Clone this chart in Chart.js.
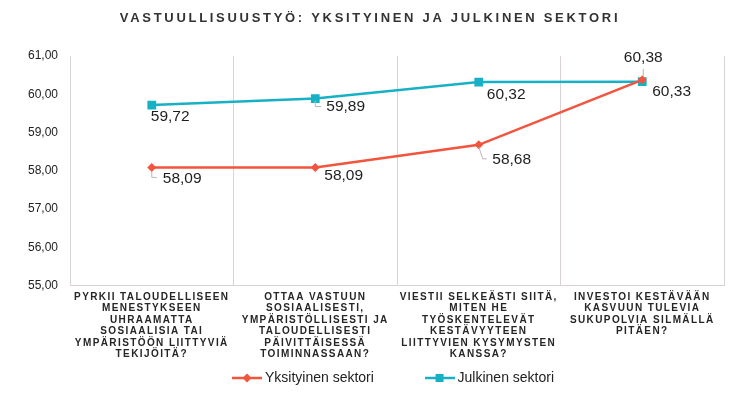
<!DOCTYPE html>
<html><head><meta charset="utf-8">
<script src="https://cdn.jsdelivr.net/npm/chart.js@4"></script>
<style>html,body{margin:0;padding:0;background:#fff}#wrap{width:746px;height:395px;position:relative}</style>
</head><body><div id="wrap"><canvas id="c"></canvas></div>
<script>
const categories = [
  ["PYRKII TALOUDELLISEEN","MENESTYKSEEN","UHRAAMATTA","SOSIAALISIA TAI","YMPÄRISTÖÖN LIITTYVIÄ","TEKIJÖITÄ?"],
  ["OTTAA VASTUUN","SOSIAALISESTI,","YMPÄRISTÖLLISESTI JA","TALOUDELLISESTI","PÄIVITTÄISESSÄ","TOIMINNASSAAN?"],
  ["VIESTII SELKEÄSTI SIITÄ,","MITEN HE","TYÖSKENTELEVÄT","KESTÄVYYTEEN","LIITTYVIEN KYSYMYSTEN","KANSSA?"],
  ["INVESTOI KESTÄVÄÄN","KASVUUN TULEVIA","SUKUPOLVIA SILMÄLLÄ","PITÄEN?"]
];
const yksityinen = [58.09, 58.09, 58.68, 60.38];
const julkinen = [59.72, 59.89, 60.32, 60.33];
const seriesNames = ["Yksityinen sektori", "Julkinen sektori"];
const yTickValues = [55, 56, 57, 58, 59, 60, 61];
const chartTitle = "VASTUULLISUUSTYÖ: YKSITYINEN JA JULKINEN SEKTORI";

// styling / placement (not data)
const FONT = "'Liberation Sans', Arial, sans-serif";
const RED = '#F2543D';
const BLUE = '#17B1C6';
const GRID = '#DAD3D3';
const labelPlacement = [
  [ {dx:11, dy:11.5, align:'left', leader:[[0,4],[0,10],[5,10]]},
    {dx:9, dy:8, align:'left'},
    {dx:13.5, dy:14.5, align:'left', leader:[[0,2],[4,14],[8,14]]},
    {dx:1, dy:-22, align:'center', leader:[[1,-3],[1,-11]]} ],
  [ {dx:-1, dy:12, align:'left'},
    {dx:11, dy:8.5, align:'left', leader:[[0,2],[0,8],[6,8]]},
    {dx:8, dy:13, align:'left'},
    {dx:10, dy:10, align:'left'} ]
];

function makeIcon(color, shape) {
  const c = document.createElement('canvas');
  c.width = 30; c.height = 12;
  const g = c.getContext('2d');
  g.strokeStyle = color; g.lineWidth = 2.5;
  g.beginPath(); g.moveTo(0, 6); g.lineTo(30, 6); g.stroke();
  g.fillStyle = color;
  if (shape === 'diamond') {
    g.beginPath(); g.moveTo(15, 1.5); g.lineTo(19.5, 6); g.lineTo(15, 10.5); g.lineTo(10.5, 6); g.closePath(); g.fill();
  } else {
    g.fillRect(11, 2, 8, 8);
  }
  return c;
}
const icons = [makeIcon(RED, 'diamond'), makeIcon(BLUE, 'square')];

const fmt = v => v.toFixed(2).replace('.', ',');

const spacingPlugin = {
  id: 'spacing',
  afterLayout(chart) {
    if (chart.legend) { chart.legend.left += 25; chart.legend.right += 25; }
  },
  beforeDraw(chart) {
    const patch = (obj, m, sp) => {
      if (!obj || obj['_p_' + m]) return;
      const orig = obj[m];
      obj[m] = function (...a) {
        const c = this.ctx; c.save(); c.letterSpacing = sp;
        const r = orig.apply(this, a); c.restore(); return r;
      };
      obj['_p_' + m] = true;
    };
    patch(chart.scales.x, 'drawLabels', '1.4px');
    patch(chart.titleBlock, 'draw', '2.7px');
  }
};

const valueLabels = {
  id: 'valueLabels',
  afterDatasetsDraw(chart) {
    const ctx = chart.ctx;
    chart.data.datasets.forEach((ds, di) => {
      const meta = chart.getDatasetMeta(di);
      meta.data.forEach((pt, i) => {
        const p = labelPlacement[di][i];
        ctx.save();
        if (p.leader) {
          ctx.strokeStyle = '#BFB4B4'; ctx.lineWidth = 1;
          ctx.beginPath();
          p.leader.forEach((q, k) => {
            const x = pt.x + q[0], y = pt.y + q[1];
            if (k === 0) ctx.moveTo(x, y); else ctx.lineTo(x, y);
          });
          ctx.stroke();
        }
        ctx.fillStyle = '#1e1e1e';
        ctx.font = '15.5px ' + FONT;
        ctx.textAlign = p.align;
        ctx.textBaseline = 'middle';
        ctx.fillText(fmt(ds.data[i]), pt.x + p.dx, pt.y + p.dy);
        ctx.restore();
      });
    });
  }
};

new Chart(document.getElementById('c'), {
  type: 'line',
  data: {
    labels: categories,
    datasets: [
      { label: seriesNames[0], data: yksityinen, borderColor: RED, backgroundColor: RED,
        borderWidth: 2.5, pointStyle: 'rectRot', pointRadius: 4.5, pointBorderWidth: 0, tension: 0 },
      { label: seriesNames[1], data: julkinen, borderColor: BLUE, backgroundColor: BLUE,
        borderWidth: 2.5, pointStyle: 'rect', pointRadius: 6.2, pointBorderWidth: 0, tension: 0 }
    ]
  },
  options: {
    responsive: true, maintainAspectRatio: false, animation: false,
    layout: { padding: { left: 16, right: 22, top: 0, bottom: 0 } },
    plugins: {
      title: { display: true, text: chartTitle, color: '#333333',
        font: { family: FONT, size: 13, weight: 'bold', lineHeight: 1.2 }, padding: { top: 11, bottom: 29.5 } },
      legend: { position: 'bottom',
        labels: { usePointStyle: true, pointStyleWidth: 22, padding: 8, color: '#222',
          font: { family: FONT, size: 14 },
          generateLabels(chart) {
            const items = Chart.defaults.plugins.legend.labels.generateLabels(chart);
            items.forEach((it, i) => {
              it.pointStyle = icons[i];
              if (i === 0) it.text = it.text + '            ';
            });
            return items;
          } } },
      tooltip: { enabled: false }
    },
    scales: {
      x: { offset: true,
        afterFit(scale) { scale.height = scale.height - 3; },
        grid: { offset: true, color: GRID, drawTicks: false },
        border: { color: GRID },
        ticks: { maxRotation: 0, autoSkip: false, padding: 6, color: '#262626',
          font: { family: FONT, size: 10, weight: 'bold', lineHeight: 1.14 } } },
      y: { min: yTickValues[0], max: yTickValues[yTickValues.length - 1],
        afterBuildTicks(scale) { scale.ticks = yTickValues.map(v => ({ value: v })); },
        grid: { drawOnChartArea: false, drawTicks: false },
        border: { color: GRID },
        ticks: { padding: 12, color: '#222', font: { family: FONT, size: 12 }, callback: v => fmt(v) } }
    }
  },
  plugins: [spacingPlugin, valueLabels]
});
</script></body></html>
